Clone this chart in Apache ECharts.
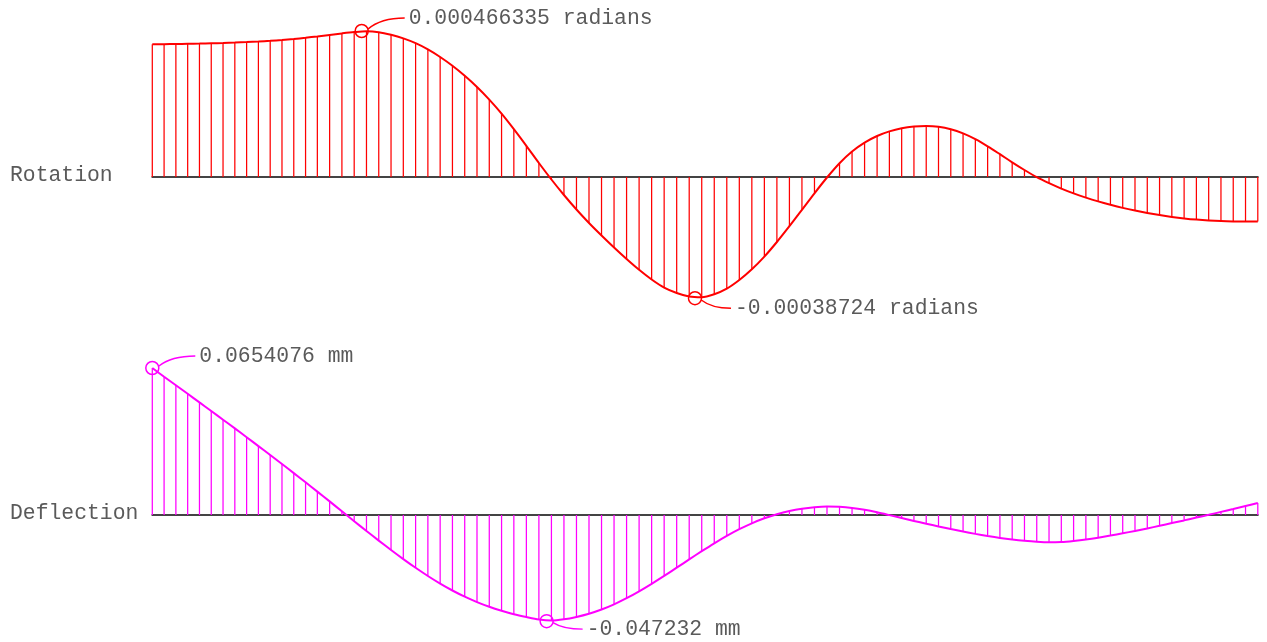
<!DOCTYPE html>
<html>
<head>
<meta charset="utf-8">
<script src="https://cdn.jsdelivr.net/npm/echarts@6/dist/echarts.min.js"></script>
<style>
  html, body { margin: 0; padding: 0; background: #ffffff; }
  #chart { width: 1267px; height: 642px; }
</style>
</head>
<body>
<div id="chart"></div>
<script>
// Stations along the beam (m)
const stations = [
  0, 0.096, 0.192, 0.288, 0.384, 0.48, 0.576, 0.672, 0.768, 0.864, 0.96, 1.056, 1.152, 1.248, 1.344,
  1.444, 1.544, 1.644, 1.744, 1.844, 1.944, 2.044, 2.144, 2.244, 2.344, 2.444, 2.544, 2.644, 2.744, 2.844, 2.944,
  3.046, 3.148, 3.25, 3.352, 3.454, 3.556, 3.658, 3.76, 3.862, 3.964, 4.066, 4.168, 4.27, 4.372, 4.474,
  4.576, 4.678, 4.78, 4.882, 4.984, 5.086, 5.188, 5.29, 5.392, 5.494, 5.596, 5.698, 5.8, 5.902,
  6.002, 6.102, 6.202, 6.302, 6.402, 6.502, 6.602, 6.702, 6.802, 6.902, 7.002, 7.102, 7.202, 7.302, 7.402,
  7.502, 7.602, 7.702, 7.802, 7.902, 8.002, 8.102, 8.202, 8.302, 8.402, 8.502, 8.602, 8.702, 8.802, 8.902, 9.002
];

// Rotation (radians)
const rotation = [
  0.00042385, 0.00042417, 0.00042481, 0.00042545, 0.00042609, 0.00042705, 0.00042801, 0.00042928, 0.00043088, 0.00043280,
  0.00043503, 0.00043759, 0.00044078, 0.00044461, 0.00044909, 0.00045388, 0.00045867, 0.00046282, 0.00046538, 0.00046250,
  0.00045420, 0.00044270, 0.00042737, 0.00040756, 0.00038329, 0.00035518, 0.00032324, 0.00028747, 0.00024722, 0.00020250,
  0.00015300, 0.00009966, 0.00004472, -0.00000799, -0.00005749, -0.00010381, -0.00014693, -0.00018685, -0.00022518, -0.00026191,
  -0.00029641, -0.00032739, -0.00035326, -0.00037051, -0.00038169, -0.00038393, -0.00037435, -0.00035646, -0.00032899, -0.00029481,
  -0.00025425, -0.00020761, -0.00015715, -0.00010477, -0.00005206, -0.00000160, 0.00004408, 0.00008145, 0.00010988, 0.00013096,
  0.00014565, 0.00015555, 0.00016098, 0.00016258, 0.00016034, 0.00015268, 0.00013926, 0.00012074, 0.00009806, 0.00007283,
  0.00004695, 0.00002236, -0.00000064, -0.00001980, -0.00003705, -0.00005238, -0.00006580, -0.00007794, -0.00008880, -0.00009870,
  -0.00010732, -0.00011499, -0.00012170, -0.00012744, -0.00013223, -0.00013607, -0.00013894, -0.00014086, -0.00014182, -0.00014214,
  -0.00014214
];

// Deflection (mm)
const deflection = [
  0.0654076, 0.061493, 0.057711, 0.053929, 0.050102, 0.046276, 0.042405, 0.038534, 0.034618, 0.030658,
  0.026698, 0.022693, 0.018644, 0.014550, 0.010412, 0.006051, 0.001646, -0.002759, -0.007119, -0.011391,
  -0.015574, -0.019623, -0.023494, -0.027143, -0.030524, -0.033594, -0.036353, -0.038756, -0.040847, -0.042627,
  -0.044184, -0.045430, -0.046500, -0.046950, -0.046400, -0.045341, -0.043918, -0.042049, -0.039735, -0.037021,
  -0.033950, -0.030613, -0.027098, -0.023449, -0.019756, -0.016108, -0.012592, -0.009300, -0.006318, -0.003693,
  -0.001468, 0.000356, 0.001780, 0.002803, 0.003471, 0.003782, 0.003650, 0.003150, 0.002300, 0.001200,
  -0.000050, -0.001350, -0.002650, -0.003880, -0.005090, -0.006250, -0.007370, -0.008400, -0.009340, -0.010190,
  -0.010900, -0.011480, -0.011920, -0.012150, -0.012000, -0.011524, -0.010901, -0.010101, -0.009166, -0.008143,
  -0.007075, -0.005962, -0.004806, -0.003604, -0.002403, -0.001157, 0.000089, 0.001379, 0.002670, 0.004005,
  0.005340
];

// Extremes: [station (m), value]
const rotationExtremes = [[1.705, 0.000466335], [4.419, -0.00038724]];
const deflectionExtremes = [[0, 0.0654076], [3.211, -0.047232]];
const rotationUnit = 'radians';
const deflectionUnit = 'mm';
const panelNames = ['Rotation', 'Deflection'];

// ---------- styling ----------
const FONT = '21.4px "Liberation Mono", "Courier New", monospace';
const TEXT_COLOR = '#5a5a5a';
const RED = '#ff0000';
const MAGENTA = '#ff00ff';
// label offsets (px) relative to the marker
const rotLabelOffsets = [[47, -13], [40, 10]];
const defLabelOffsets = [[47, -12], [40, 8]];

const chart = echarts.init(document.getElementById('chart'), null, { renderer: 'canvas' });

function hatchSeries(name, values, color, idx) {
  return {
    name: name + '-hatch',
    type: 'custom',
    xAxisIndex: idx, yAxisIndex: idx,
    silent: true,
    clip: false,
    z: 2,
    data: stations.map((x, i) => [x, values[i]]),
    renderItem: function (params, api) {
      const p0 = api.coord([api.value(0), 0]);
      const p1 = api.coord([api.value(0), api.value(1)]);
      return {
        type: 'line',
        shape: { x1: p0[0], y1: p0[1], x2: p0[0], y2: p1[1] },
        style: { stroke: color, lineWidth: 1.25 }
      };
    }
  };
}

function curveSeries(name, values, color, idx) {
  return {
    name: name,
    type: 'line',
    xAxisIndex: idx, yAxisIndex: idx,
    data: stations.map((x, i) => [x, values[i]]),
    smooth: 0.3,
    symbol: 'none',
    silent: true,
    clip: false,
    z: 3,
    lineStyle: { color: color, width: 2 }
  };
}

function extremeSeries(name, extremes, unit, offsets, color, idx) {
  return {
    name: name + '-extremes',
    type: 'custom',
    xAxisIndex: idx, yAxisIndex: idx,
    silent: true,
    clip: false,
    z: 5,
    data: extremes,
    renderItem: function (params, api) {
      const c = api.coord([api.value(0), api.value(1)]);
      const off = offsets[params.dataIndex];
      const r = 6.5;
      const tx = c[0] + off[0], ty = c[1] + off[1];
      const ex = tx - 4, ey = ty;
      const ang = Math.atan2(ey - c[1], ex - c[0]);
      const sx = c[0] + r * Math.cos(ang), sy = c[1] + r * Math.sin(ang);
      const cpx = sx + 0.35 * (ex - sx), cpy = ey;
      const text = extremes[params.dataIndex][1] + ' ' + unit;
      return {
        type: 'group',
        children: [
          { type: 'circle', shape: { cx: c[0], cy: c[1], r: r },
            style: { fill: 'none', stroke: color, lineWidth: 1.5 } },
          { type: 'bezierCurve', shape: { x1: sx, y1: sy, x2: ex, y2: ey, cpx1: cpx, cpy1: cpy },
            style: { fill: 'none', stroke: color, lineWidth: 1.4 } },
          { type: 'text', style: { text: text, x: tx, y: ty, font: FONT, fill: TEXT_COLOR,
            verticalAlign: 'middle', align: 'left' } }
        ]
      };
    }
  };
}

const hiddenY = (min, max) => ({
  type: 'value', min: min, max: max,
  axisLine: { show: false }, axisTick: { show: false },
  axisLabel: { show: false }, splitLine: { show: false }
});
const baseX = (idx) => ({
  type: 'value', gridIndex: idx, min: stations[0], max: stations[stations.length - 1],
  axisLine: { show: true, onZero: true, lineStyle: { color: '#444444', width: 2 } },
  axisTick: { show: false }, axisLabel: { show: false }, splitLine: { show: false }
});

const option = {
  backgroundColor: '#ffffff',
  animation: false,
  grid: [
    { left: 152.3, width: 1105.5, top: 20.46, height: 281.77, outerBoundsMode: 'none' },
    { left: 152.3, width: 1105.5, top: 357.68, height: 269.69, outerBoundsMode: 'none' }
  ],
  xAxis: [baseX(0), baseX(1)],
  yAxis: [
    Object.assign({ gridIndex: 0 }, hiddenY(-0.0004, 0.0005)),
    Object.assign({ gridIndex: 1 }, hiddenY(-0.05, 0.07))
  ],
  graphic: [
    { type: 'text', left: 10, top: 165, style: { text: panelNames[0], font: FONT, fill: TEXT_COLOR } },
    { type: 'text', left: 10, top: 503, style: { text: panelNames[1], font: FONT, fill: TEXT_COLOR } }
  ],
  series: [
    hatchSeries('Rotation', rotation, RED, 0),
    curveSeries('Rotation', rotation, RED, 0),
    extremeSeries('Rotation', rotationExtremes, rotationUnit, rotLabelOffsets, RED, 0),
    hatchSeries('Deflection', deflection, MAGENTA, 1),
    curveSeries('Deflection', deflection, MAGENTA, 1),
    extremeSeries('Deflection', deflectionExtremes, deflectionUnit, defLabelOffsets, MAGENTA, 1)
  ]
};
chart.setOption(option);
</script>
</body>
</html>
